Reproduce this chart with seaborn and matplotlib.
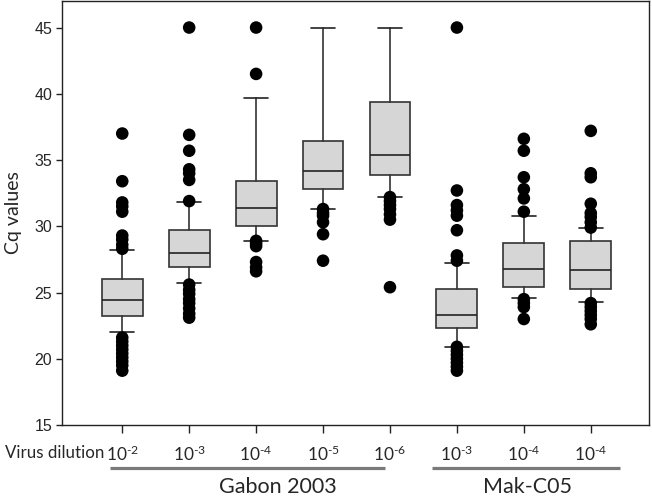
#!/usr/bin/env python3
"""Cq values per virus dilution, box plots with 10th/90th whiskers."""

import pandas as pd
import matplotlib
matplotlib.use('Agg')
import matplotlib.pyplot as plt
import matplotlib.transforms as mtransforms
import seaborn as sns

# dilution exponents under each box
dilutions = ['2', '3', '4', '5', '6', '3', '4', '4']

# box statistics
q1 = [23.2, 26.9, 30.0, 32.8, 33.9, 22.3, 25.4, 25.3]
median = [24.4, 28.0, 31.4, 34.2, 35.4, 23.3, 26.8, 26.7]
q3 = [26.0, 29.7, 33.4, 36.4, 39.4, 25.3, 28.7, 28.9]
whis_lo = [22.0, 25.7, 28.9, 31.3, 32.2, 20.9, 24.6, 24.3]
whis_hi = [28.2, 31.8, 39.7, 45.0, 45.0, 27.2, 30.8, 29.9]

# points outside the whiskers
outliers = [
    [37.0, 33.4, 31.8, 31.5, 31.1, 29.3, 29.0, 28.6, 28.3,
     21.6, 21.3, 21.0, 20.7, 20.4, 20.1, 19.8, 19.5, 19.1],
    [45.0, 36.9, 35.7, 34.3, 34.0, 33.5, 31.9,
     25.6, 25.2, 24.9, 24.5, 24.2, 23.8, 23.4, 23.1],
    [45.0, 41.5, 28.9, 28.7, 28.5, 27.3, 26.9, 26.6],
    [31.3, 31.0, 30.8, 30.3, 29.4, 27.4],
    [32.2, 31.9, 31.6, 31.3, 30.9, 30.5, 25.4],
    [45.0, 32.7, 31.6, 31.2, 30.8, 29.7, 27.8, 27.4,
     20.9, 20.6, 20.3, 20.0, 19.7, 19.4, 19.1],
    [36.6, 35.7, 33.7, 32.8, 32.1, 31.1, 24.5, 24.2, 23.9, 23.0],
    [37.2, 34.0, 33.7, 31.7, 31.0, 30.7, 30.3, 29.9,
     24.2, 23.9, 23.6, 23.3, 23.0, 22.6],
]

# virus groups
group_names = ['Gabon 2003', 'Mak-C05']


def setup_plot_style():
    sns.set_theme(style='ticks')
    plt.rcParams['font.family'] = ['Lato', 'DejaVu Sans']
    plt.rcParams['mathtext.fontset'] = 'custom'
    plt.rcParams['mathtext.rm'] = 'Lato'
    plt.rcParams['axes.edgecolor'] = '#222222'
    plt.rcParams['axes.linewidth'] = 1.0


def main():
    setup_plot_style()
    fig = plt.figure(figsize=(6.52, 4.97), dpi=100)
    ax = fig.add_axes([0.0951, 0.1449, 0.9003, 0.853])

    stats = []
    for i in range(len(q1)):
        stats.append(dict(q1=q1[i], med=median[i], q3=q3[i],
                          whislo=whis_lo[i], whishi=whis_hi[i], fliers=[]))
    ax.bxp(stats, positions=range(len(stats)), widths=0.61,
           showfliers=False, patch_artist=True, manage_ticks=False,
           boxprops=dict(facecolor='#d6d6d6', edgecolor='#333333', linewidth=1.2),
           medianprops=dict(color='#222222', linewidth=1.2),
           whiskerprops=dict(color='#333333', linewidth=1.2),
           capprops=dict(color='#222222', linewidth=1.2),
           capwidths=0.36)

    rows = []
    for i, vals in enumerate(outliers):
        for v in vals:
            rows.append({'pos': i, 'cq': v})
    df = pd.DataFrame(rows)
    sns.scatterplot(data=df, x='pos', y='cq', ax=ax, color='black',
                    s=82, edgecolor='none', legend=False, zorder=3)

    ax.set_xlim(-0.9, 7.87)
    ax.set_ylim(15, 47)
    ax.set_yticks(range(15, 46, 5))
    ax.set_xticks(range(len(dilutions)))
    ax.set_xticklabels([r'$\mathregular{10^{\text{-}%s}}$' % d for d in dilutions])
    ax.tick_params(axis='x', length=6, width=1, pad=8, labelsize=12.5,
                   color='#222222')
    ax.tick_params(axis='y', length=4, width=1, pad=3, labelsize=11.5,
                   color='#222222')
    for lab in ax.get_yticklabels():
        lab.set_fontfamily('Liberation Sans')
    ax.set_xlabel('')
    ax.set_ylabel('Cq values', fontsize=14, labelpad=9)
    for side in ['top', 'right', 'left', 'bottom']:
        ax.spines[side].set_visible(True)

    trans = mtransforms.blended_transform_factory(ax.transData, ax.transAxes)
    ax.text(-0.27, -0.066, 'Virus dilution', transform=trans, ha='right',
            va='center', fontsize=12.2)
    # grey bars under each virus group, then the group names
    line_spans = [(-0.18, 3.93), (4.63, 7.43)]
    label_x = [2.33, 6.05]
    for name, (x0, x1), lx in zip(group_names, line_spans, label_x):
        ax.plot([x0, x1], [-0.101, -0.101], transform=trans,
                color='#7a7a7a', linewidth=2.3, clip_on=False,
                solid_capstyle='butt')
        ax.text(lx, -0.147, name, transform=trans,
                ha='center', va='center', fontsize=15.5)

    fig.savefig('out.png', dpi=100)
    plt.close(fig)


if __name__ == "__main__":
    main()
